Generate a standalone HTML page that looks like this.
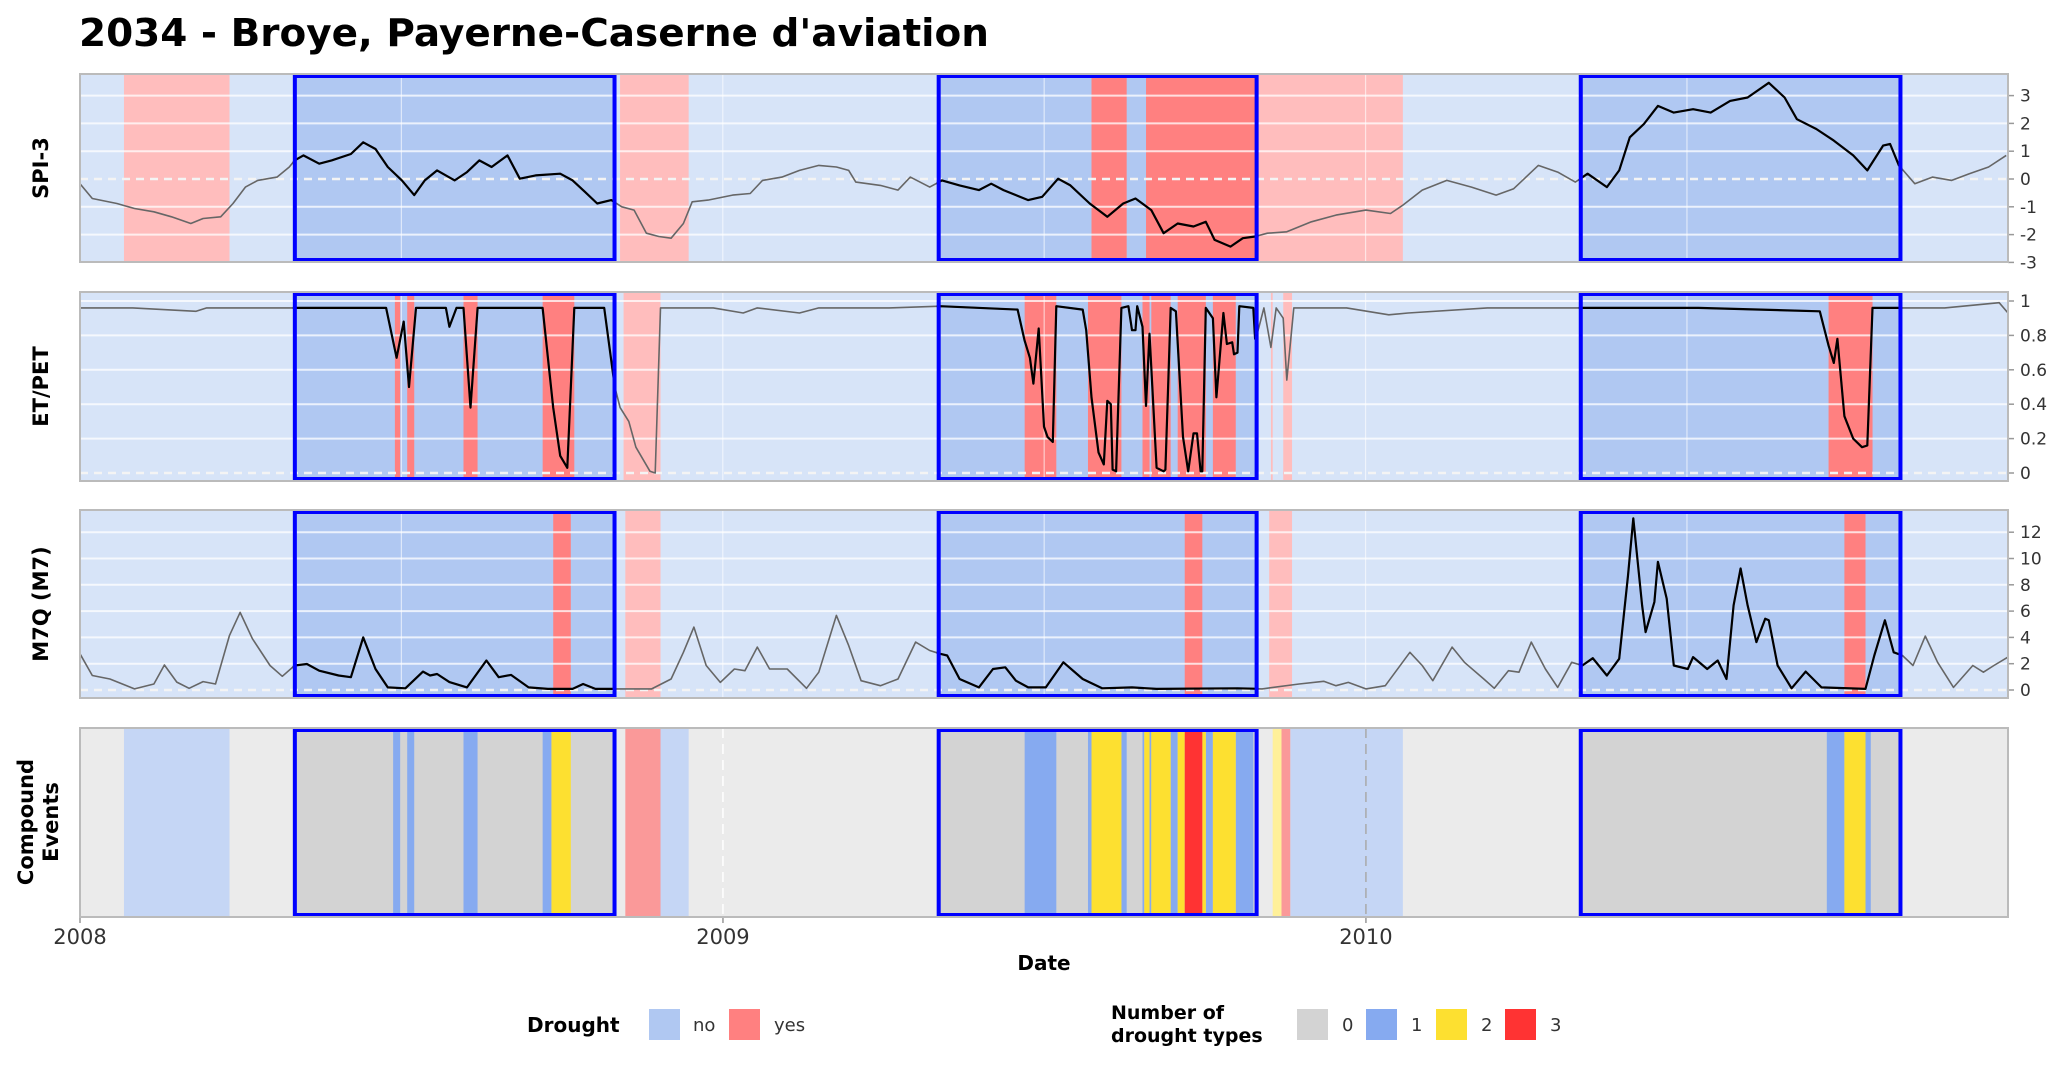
<!DOCTYPE html>
<html><head><meta charset="utf-8"><style>
html,body{margin:0;padding:0;background:#fff;}
svg{display:block;font-family:"DejaVu Sans","Liberation Sans",sans-serif;}
</style></head><body>
<svg id="chart" width="2067" height="1065" viewBox="0 0 2067 1065" xmlns="http://www.w3.org/2000/svg">
<text x="79" y="46" font-size="38" font-weight="bold" fill="#000" textLength="910" lengthAdjust="spacingAndGlyphs">2034 - Broye, Payerne-Caserne d'aviation</text>
<g id="panels"></g>
<text x="1044" y="970" font-size="20" font-weight="bold" text-anchor="middle">Date</text>
<g>
<text x="527" y="1032" font-size="20" font-weight="bold">Drought</text>
<rect x="649" y="1009" width="31" height="31" fill="#b0c8f2"/>
<text x="693" y="1031" font-size="18" fill="#333">no</text>
<rect x="729" y="1009" width="31" height="31" fill="#ff8080"/>
<text x="774" y="1031" font-size="18" fill="#333">yes</text>
</g>
<g>
<text x="1111" y="1019" font-size="19" font-weight="bold">Number of</text>
<text x="1111" y="1042" font-size="19" font-weight="bold">drought types</text>
<rect x="1297" y="1009" width="31" height="31" fill="#d3d3d3"/>
<text x="1342" y="1031" font-size="18" fill="#333">0</text>
<rect x="1366" y="1009" width="31" height="31" fill="#86aaf0"/>
<text x="1411" y="1031" font-size="18" fill="#333">1</text>
<rect x="1436" y="1009" width="31" height="31" fill="#fde030"/>
<text x="1481" y="1031" font-size="18" fill="#333">2</text>
<rect x="1505" y="1009" width="31" height="31" fill="#ff3333"/>
<text x="1550" y="1031" font-size="18" fill="#333">3</text>
</g>
</svg>
<script>
// ---- data (days since 2008-01-01) ----
const yearTicks = ["2008","2009","2010"];
const droughtEvents = [[121,305],[487,670],[852,1036]];
const spiYes = [[575,595],[606,670]];
const spiOutYes = [[25,85],[307,346],[670,752]];
const etYes = [[179,182],[186,190],[218,226],[263,281],[537,555],[573,592],[604,608],[609,620],[624,640],[644,657],[994,1019]];
const etOutYes = [[309,330],[677,678],[684,689]];
const m7Yes = [[269,279],[628,638],[1003,1015]];
const m7OutYes = [[310,330],[676,689]];
const ceOutNo = [[25,85],[330,346],[688,752]];
const ceOutYes = [[310,330],[683,688]];
const ceOutTwo = [[678,683]];
const ceOne = [[178,182],[186,190],[218,226],[263,268],[537,555],[573,575],[592,595],[604,605],[608,609],[620,624],[640,644],[657,667],[993,1003],[1015,1018]];
const ceTwo = [[268,279],[575,592],[605,608],[609,620],[624,628],[638,640],[644,657],[1003,1015]];
const ceThree = [[628,638]];
const spiDays = [0,7,21,31,42,52,63,70,80,87,94,101,112,119,122,127,136,143,154,161,168,175,183,190,196,203,213,220,227,234,243,250,259,273,280,287,294,302,308,315,322,329,336,343,348,357,371,381,388,399,409,420,430,437,441,455,465,472,483,490,500,511,518,525,539,547,556,563,574,584,593,600,609,616,624,633,640,645,654,661,668,675,686,700,714,731,745,752,763,777,791,805,815,822,829,840,850,857,868,875,881,889,897,906,917,927,938,948,960,969,976,987,997,1008,1016,1025,1029,1034,1043,1053,1064,1074,1085,1095];
const spiVals = [-0.17,-0.7,-0.88,-1.06,-1.18,-1.36,-1.6,-1.42,-1.36,-0.88,-0.29,-0.05,0.07,0.43,0.67,0.85,0.55,0.67,0.9,1.32,1.08,0.43,-0.05,-0.58,-0.05,0.31,-0.05,0.25,0.67,0.43,0.85,0.01,0.13,0.19,-0.05,-0.46,-0.88,-0.76,-1.0,-1.12,-1.95,-2.07,-2.13,-1.6,-0.82,-0.76,-0.58,-0.52,-0.05,0.07,0.31,0.49,0.43,0.31,-0.11,-0.23,-0.4,0.07,-0.29,-0.05,-0.23,-0.4,-0.17,-0.4,-0.76,-0.64,0.01,-0.23,-0.88,-1.36,-0.88,-0.7,-1.12,-1.95,-1.6,-1.71,-1.54,-2.19,-2.43,-2.13,-2.07,-1.95,-1.9,-1.54,-1.3,-1.12,-1.24,-0.94,-0.4,-0.05,-0.29,-0.58,-0.35,0.07,0.49,0.25,-0.11,0.19,-0.29,0.31,1.5,1.98,2.63,2.39,2.51,2.39,2.81,2.93,3.46,2.93,2.15,1.8,1.38,0.85,0.31,1.2,1.26,0.49,-0.17,0.07,-0.05,0.19,0.43,0.85];
const etDays = [0,30,66,72,78,120,174,180,184,187,191,208,210,214,218,222,226,263,269,273,277,281,298,304,307,312,316,324,327,330,360,377,385,409,420,460,489,533,537,540,542,545,548,550,553,555,570,572,575,579,582,584,586,587,589,592,596,598,600,601,604,606,608,612,616,617,620,623,627,630,633,635,637,638,640,644,646,650,652,655,656,658,659,667,668,670,673,677,680,684,686,690,720,744,755,800,852,920,989,994,997,999,1003,1008,1013,1016,1019,1060,1091,1096];
const etVals = [0.96,0.96,0.94,0.96,0.96,0.96,0.96,0.67,0.88,0.5,0.96,0.96,0.85,0.96,0.96,0.38,0.96,0.96,0.38,0.1,0.03,0.96,0.96,0.5,0.38,0.3,0.15,0.01,0.0,0.96,0.96,0.93,0.96,0.93,0.96,0.96,0.97,0.95,0.77,0.67,0.52,0.84,0.27,0.21,0.18,0.97,0.95,0.83,0.44,0.12,0.05,0.42,0.4,0.02,0.01,0.96,0.97,0.83,0.83,0.97,0.85,0.39,0.81,0.03,0.01,0.02,0.96,0.94,0.21,0.01,0.23,0.23,0.01,0.01,0.96,0.9,0.44,0.93,0.75,0.76,0.69,0.7,0.97,0.96,0.78,0.84,0.96,0.73,0.96,0.9,0.54,0.96,0.96,0.92,0.93,0.96,0.96,0.96,0.94,0.74,0.64,0.78,0.33,0.2,0.15,0.16,0.96,0.96,0.99,0.93];
const m7Days = [0,7,17,31,42,48,55,62,70,77,85,91,98,108,115,122,129,136,147,154,161,168,175,185,195,199,203,210,220,231,238,245,255,266,280,286,293,308,325,336,343,349,356,364,372,378,385,392,402,413,420,430,437,444,455,465,475,483,489,493,500,511,519,526,532,539,549,559,570,581,598,612,658,672,693,707,714,721,731,742,756,763,769,780,787,798,804,812,818,825,833,840,848,854,860,868,875,880,883,888,890,895,897,902,906,914,917,925,931,936,940,944,948,953,958,960,965,973,981,990,1015,1020,1026,1031,1036,1042,1049,1056,1065,1076,1082,1088,1096];
const m7Vals = [2.75,1.1,0.84,0.08,0.46,1.9,0.6,0.13,0.64,0.46,4.15,5.9,3.9,1.86,1.04,1.86,1.98,1.47,1.1,0.97,4.0,1.6,0.2,0.13,1.4,1.1,1.22,0.6,0.2,2.24,0.97,1.15,0.2,0.08,0.08,0.46,0.08,0.08,0.08,0.84,2.87,4.78,1.86,0.58,1.6,1.47,3.26,1.6,1.6,0.13,1.35,5.67,3.38,0.71,0.33,0.84,3.64,3.0,2.75,2.62,0.84,0.2,1.6,1.73,0.71,0.2,0.2,2.11,0.84,0.13,0.2,0.08,0.13,0.08,0.46,0.66,0.33,0.58,0.08,0.33,2.87,1.86,0.71,3.26,2.11,0.84,0.13,1.47,1.35,3.64,1.6,0.2,2.11,1.86,2.42,1.1,2.37,8.7,13.05,6.44,4.4,6.7,9.75,6.95,1.86,1.6,2.5,1.6,2.24,0.84,6.44,9.24,6.44,3.64,5.42,5.3,1.86,0.13,1.4,0.2,0.08,2.62,5.3,2.87,2.62,1.86,4.1,2.11,0.2,1.86,1.35,1.86,2.5];
const spiTicks = [-3,-2,-1,0,1,2,3];
const etTicks = [0,0.2,0.4,0.6,0.8,1];
const m7Ticks = [0,2,4,6,8,10,12];

// ---- scales ----
const X0 = 80, X1 = 2008, NDAYS = 1096;
function xs(d){ return X0 + d/NDAYS*(X1-X0); }
function yearX(i){ return xs(i*365.5); }
const NS = "http://www.w3.org/2000/svg";
const root = document.getElementById('panels');
function el(tag, attrs, parent){
  const e = document.createElementNS(NS, tag);
  for (const k in attrs) e.setAttribute(k, attrs[k]);
  (parent||root).appendChild(e); return e;
}
const panels = [
  {name:'spi-panel', title:['SPI-3'], y0:74, y1:262, y:v=>179-v*27.8, ticks:spiTicks, days:spiDays, vals:spiVals, inYes:spiYes, outYes:spiOutYes},
  {name:'etpet-panel', title:['ET/PET'], y0:292, y1:481, y:v=>473-v*172, ticks:etTicks, days:etDays, vals:etVals, inYes:etYes, outYes:etOutYes},
  {name:'m7q-panel', title:['M7Q (M7)'], y0:510, y1:698, y:v=>690-v*13.15, ticks:m7Ticks, days:m7Days, vals:m7Vals, inYes:m7Yes, outYes:m7OutYes}
];
function band(g, iv, y0, y1, fill, name){
  const r = el('rect',{x:xs(iv[0]), y:y0, width:Math.max(1,xs(iv[1])-xs(iv[0])), height:y1-y0, fill:fill}, g);
  
  
}
panels.forEach((p, pi)=>{
  const g = el('g',{});
  
  
  el('rect',{x:X0,y:p.y0,width:X1-X0,height:p.y1-p.y0,fill:'#d7e4f8'},g);
  droughtEvents.forEach(iv=>band(g, iv, p.y0, p.y1, '#b0c8f2', 'drought-event-fill'));
  p.outYes.forEach(iv=>band(g, iv, p.y0, p.y1, '#ffbdbd', 'drought-yes-band-light'));
  p.inYes.forEach(iv=>band(g, iv, p.y0, p.y1, '#ff8080', 'drought-yes-band'));
  for (let i=0;i<6;i++){ const x = xs(i*182.7); el('line',{x1:x,x2:x,y1:p.y0,y2:p.y1,stroke:'#ffffff','stroke-opacity':0.6,'stroke-width':1.2},g); }
  p.ticks.forEach(t=>{
    const y = p.y(t);
    if (t===0) el('line',{x1:X0,x2:X1,y1:y,y2:y,stroke:'#f4f4f4','stroke-width':2.5,'stroke-dasharray':'8 6'},g);
    else el('line',{x1:X0,x2:X1,y1:y,y2:y,stroke:'#ffffff','stroke-opacity':0.75,'stroke-width':2},g);
    el('line',{x1:X1,x2:X1+6,y1:y,y2:y,stroke:'#999','stroke-width':1.5},g);
    const tl = el('text',{x:X1+12,y:y+6,'font-size':17,fill:'#333'},g);
    tl.textContent = String(t);
    
    
  });
  let d = '';
  p.days.forEach((dd,i)=>{ d += (i?'L':'M') + xs(dd).toFixed(1) + ',' + p.y(p.vals[i]).toFixed(1); });
  const cid = 'clip'+pi;
  const cp = el('clipPath',{id:cid},g);
  droughtEvents.forEach(iv=>el('rect',{x:xs(iv[0]),y:p.y0,width:xs(iv[1])-xs(iv[0]),height:p.y1-p.y0},cp));
  const gl = el('path',{d:d,fill:'none',stroke:'#666','stroke-width':1.6,'stroke-linejoin':'round'},g);
  
  
  const bl = el('path',{d:d,fill:'none',stroke:'#000','stroke-width':2.2,'stroke-linejoin':'round','clip-path':'url(#'+cid+')'},g);
  
  
  droughtEvents.forEach(iv=>{
    const r = el('rect',{x:xs(iv[0])+2,y:p.y0+2,width:xs(iv[1])-xs(iv[0])-4,height:p.y1-p.y0-4,fill:'none',stroke:'#0000ff','stroke-width':4},g);
    
    
  });
  el('rect',{x:X0,y:p.y0,width:X1-X0,height:p.y1-p.y0,fill:'none',stroke:'#bbbbbb','stroke-width':2},g);
  const tt = el('text',{transform:'translate(48,'+((p.y0+p.y1)/2)+') rotate(-90)','text-anchor':'middle','font-size':21,'font-weight':'bold'},g);
  tt.textContent = p.title[0];
  
  
});
// compound events panel
(function(){
  const y0=728, y1=917;
  const g = el('g',{});
  
  
  el('rect',{x:X0,y:y0,width:X1-X0,height:y1-y0,fill:'#ebebeb'},g);
  ceOutNo.forEach(iv=>band(g, iv, y0, y1, '#c5d6f5', 'no-drought-band'));
  ceOutYes.forEach(iv=>band(g, iv, y0, y1, '#fa9999', 'drought-band'));
  ceOutTwo.forEach(iv=>band(g, iv, y0, y1, '#fff099', 'two-types-band-light'));
  droughtEvents.forEach(iv=>band(g, iv, y0, y1, '#d3d3d3', 'zero-types-band'));
  ceOne.forEach(iv=>band(g, iv, y0, y1, '#86aaf0', 'one-type-band'));
  ceTwo.forEach(iv=>band(g, iv, y0, y1, '#fde030', 'two-types-band'));
  ceThree.forEach(iv=>band(g, iv, y0, y1, '#ff3333', 'three-types-band'));
  yearTicks.forEach((t,i)=>{
    const x = yearX(i);
    el('line',{x1:x,x2:x,y1:y0,y2:y1,stroke:i===1?'#ffffff':'#aaaaaa','stroke-width':1.5,'stroke-dasharray':'10 6'},g);
    el('line',{x1:x,x2:x,y1:y1,y2:y1+6,stroke:'#999','stroke-width':1.5},g);
    const tl = el('text',{x:x,y:944,'font-size':21,fill:'#333','text-anchor':'middle'},g);
    tl.textContent = t;
    
    
  });
  droughtEvents.forEach(iv=>{
    const r = el('rect',{x:xs(iv[0])+2,y:y0+2,width:xs(iv[1])-xs(iv[0])-4,height:y1-y0-4,fill:'none',stroke:'#0000ff','stroke-width':4},g);
    
    
  });
  el('rect',{x:X0,y:y0,width:X1-X0,height:y1-y0,fill:'none',stroke:'#bbbbbb','stroke-width':2},g);
  const t1 = el('text',{transform:'translate(33,822) rotate(-90)','text-anchor':'middle','font-size':21,'font-weight':'bold'},g);
  t1.textContent = 'Compound';
  
  
  const t2 = el('text',{transform:'translate(58,822) rotate(-90)','text-anchor':'middle','font-size':21,'font-weight':'bold'},g);
  t2.textContent = 'Events';
  
  
})();
</script>
</body></html>
